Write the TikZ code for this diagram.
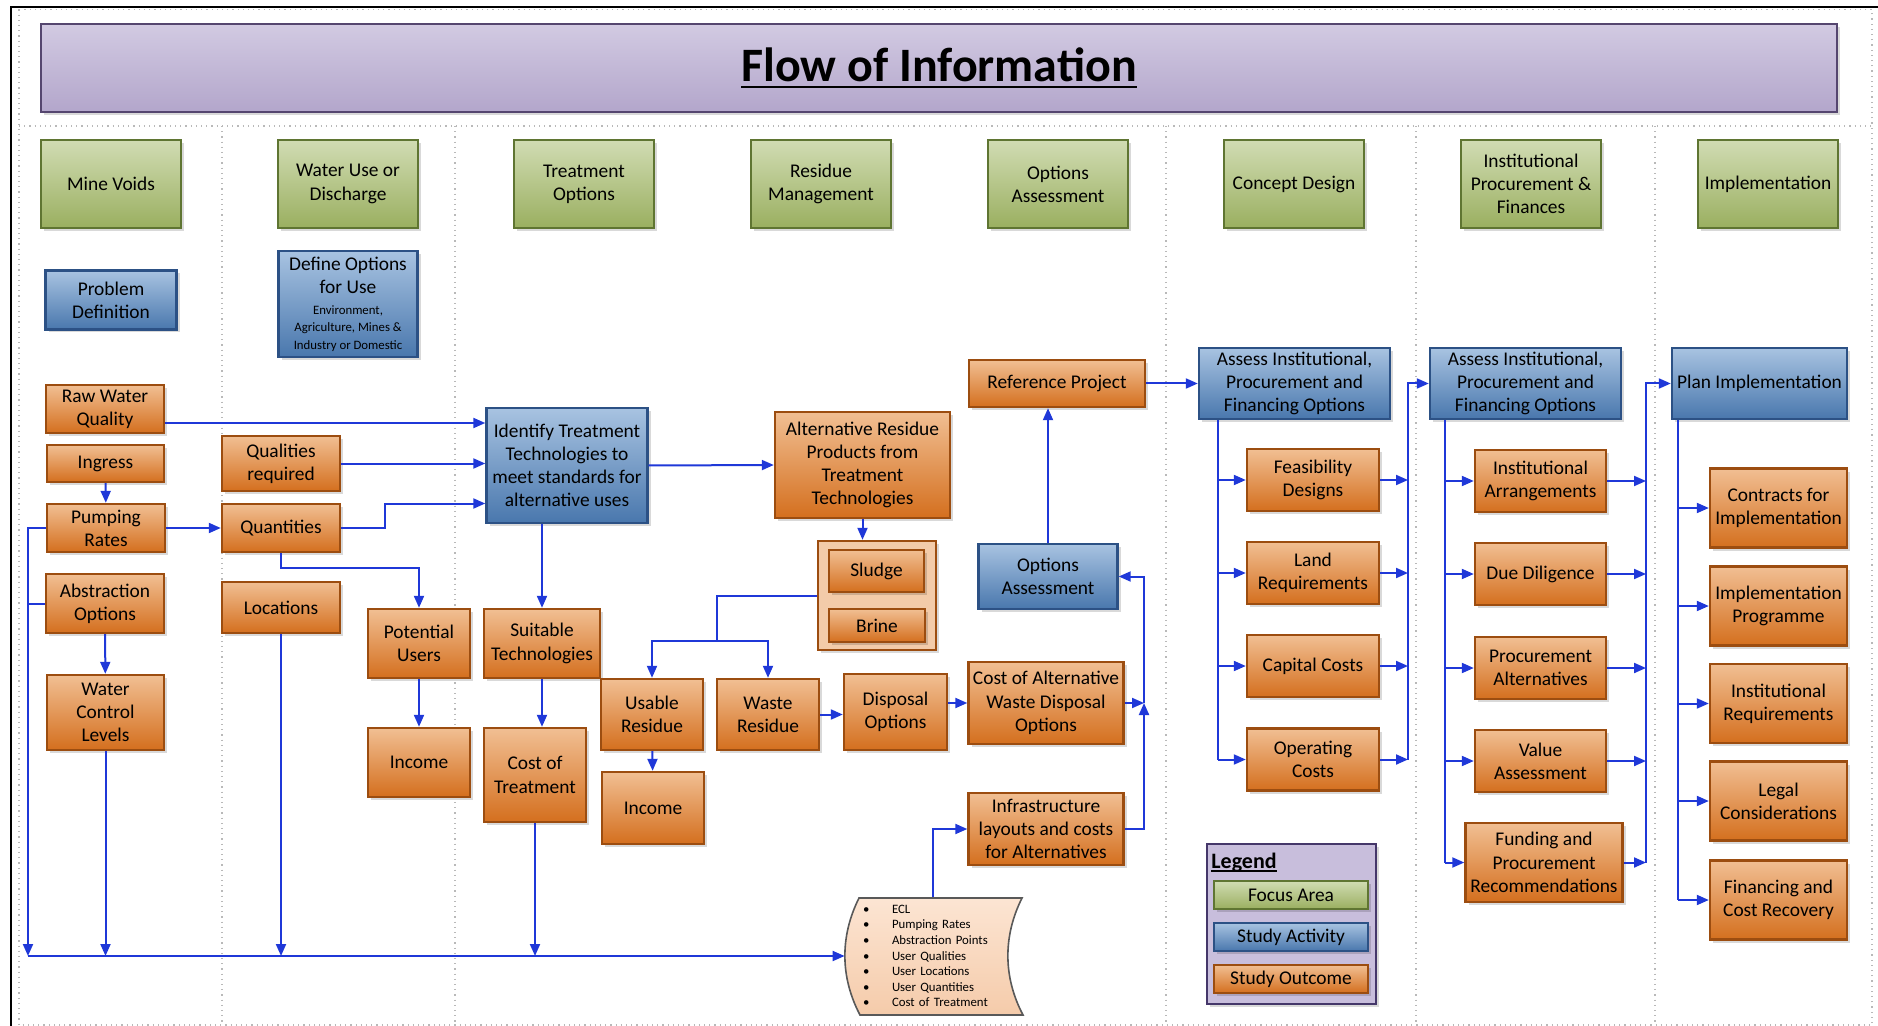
\documentclass[tikz,border=0pt]{standalone}
\usepackage{fontspec}
\setmainfont{Carlito}
\usetikzlibrary{arrows.meta, shadows}

\newcommand{\ulined}[3]{\setbox0=\hbox{#3}\rlap{\rule[-#1]{\wd0}{#2}}\box0}

\definecolor{focustop}{HTML}{D1DCB3}
\definecolor{focusbot}{HTML}{9AAF60}
\definecolor{focusline}{HTML}{5F7532}
\definecolor{acttop}{HTML}{A8C3E1}
\definecolor{actbot}{HTML}{4977AD}
\definecolor{actline}{HTML}{2C5185}
\definecolor{outtop}{HTML}{F1BF93}
\definecolor{outbot}{HTML}{D46F1E}
\definecolor{outedge}{HTML}{9C4D10}
\definecolor{headtop}{HTML}{D2CAE2}
\definecolor{headbot}{HTML}{B3A6CB}
\definecolor{headline}{HTML}{55466F}
\definecolor{legendfill}{HTML}{C8BEDC}
\definecolor{legendline}{HTML}{45376A}
\definecolor{flowblue}{HTML}{1F38D8}
\definecolor{holdfill}{HTML}{F3CBA9}
\definecolor{listtop}{HTML}{FCE5D3}
\definecolor{listbot}{HTML}{F5CBAA}

\tikzset{
    block/.style={draw, line width=1.2pt, align=center, inner sep=0.5pt,
        font=\fontsize{9.7}{11.6}\selectfont,
        drop shadow={shadow xshift=1.5pt, shadow yshift=-1.5pt, fill=black, opacity=0.15}},
    focus/.style={block, draw=focusline, top color=focustop, bottom color=focusbot,
        minimum width=70pt, minimum height=44pt},
    activity/.style={block, draw=actline, top color=acttop, bottom color=actbot},
    outcome/.style={block, draw=outedge, top color=outtop, bottom color=outbot},
    flow/.style={draw=flowblue, line width=1pt, -{Triangle[length=6pt, width=5pt]}},
    trunk/.style={draw=flowblue, line width=1pt},
    lane/.style={draw=gray!55, dotted, line width=0.6pt},
}

\begin{document}
\begin{tikzpicture}[x=0.5pt, y=-0.5pt]
                \useasboundingbox (0,0) rectangle (1878,1026);
                \draw[line width=1.4pt] (11,1026) -- (11,7) -- (1878,7);
                \draw[lane] (19,9.5) rectangle (1872,1025);
                \draw[lane] (19,126) -- (1872,126);
                \foreach \x in {222,455,1166,1416,1655}
                    \draw[lane] (\x,126) -- (\x,1025);

                \node[draw=headline, line width=1.2pt, top color=headtop, bottom color=headbot,
                    minimum width=898pt, minimum height=44pt,
                    font=\fontsize{24}{28}\selectfont\bfseries,
                    drop shadow={shadow xshift=1.5pt, shadow yshift=-1.5pt, fill=black, opacity=0.15}]
                    (header) at (939,68) {\ulined{3.4pt}{1.1pt}{Flow of Information}};

                \node[focus] (fmine) at (111,184) {Mine Voids};
                \node[focus] (fuse) at (348,184) {Water Use or\\Discharge};
                \node[focus] (ftreat) at (584,184) {Treatment\\Options};
                \node[focus] (fresid) at (821,184) {Residue\\Management};
                \node[focus] (fopt) at (1058,184) {Options\\Assessment};
                \node[focus] (fconcept) at (1294,184) {Concept Design};
                \node[focus] (finst) at (1531,184) {Institutional\\Procurement \&\\Finances};
                \node[focus] (fimpl) at (1768,184) {Implementation};

                \node[activity, minimum width=65.5pt, minimum height=29.5pt] (probdef) at (111,300) {Problem\\Definition};
                \node[activity, minimum width=69.5pt, minimum height=53pt] (defopt) at (348,304)
                    {Define Options\\for Use\\[-1pt]{\fontsize{6.4}{7.5}\selectfont Environment,}\\[-3pt]
                     {\fontsize{6.4}{7.5}\selectfont Agriculture, Mines \&}\\[-3pt]
                     {\fontsize{6.4}{7.5}\selectfont Industry or Domestic}};
                \node[activity, minimum width=80.5pt, minimum height=57.5pt] (ident) at (567,465.5)
                    {Identify Treatment\\Technologies to\\meet standards for\\alternative uses};
                \node[activity, minimum width=69.5pt, minimum height=32.5pt] (optass) at (1048,576.5) {Options\\Assessment};
                \node[activity, minimum width=95.5pt, minimum height=35.5pt] (assess1) at (1294.5,383.5)
                    {Assess Institutional,\\Procurement and\\Financing Options};
                \node[activity, minimum width=95.5pt, minimum height=35.5pt] (assess2) at (1525.5,383.5)
                    {Assess Institutional,\\Procurement and\\Financing Options};
                \node[activity, minimum width=87.5pt, minimum height=35.5pt] (planimp) at (1759.5,383.5) {Plan Implementation};

                \node[outcome, minimum width=59pt, minimum height=24pt] (rawq) at (105,409) {Raw Water\\Quality};
                \node[outcome, minimum width=58.5pt, minimum height=18.5pt] (ingress) at (105.5,463.5) {Ingress};
                \node[outcome, minimum width=59pt, minimum height=24pt] (pumprate) at (106,528) {Pumping\\Rates};
                \node[outcome, minimum width=59pt, minimum height=29.5pt] (abstr) at (105,603.5) {Abstraction\\Options};
                \node[outcome, minimum width=58.5pt, minimum height=37.5pt] (wcl) at (105.5,712.5) {Water\\Control\\Levels};
                \node[outcome, minimum width=59pt, minimum height=27.5pt] (qualreq) at (281,463.5) {Qualities\\required};
                \node[outcome, minimum width=59pt, minimum height=24pt] (quant) at (281,528) {Quantities};
                \node[outcome, minimum width=59pt, minimum height=25.5pt] (locat) at (281,607.5) {Locations};
                \node[outcome, minimum width=51pt, minimum height=34.5pt] (potusers) at (419,643.5) {Potential\\Users};
                \node[outcome, minimum width=58pt, minimum height=34.5pt] (suittech) at (542,643.5) {Suitable\\Technologies};
                \node[outcome, minimum width=51pt, minimum height=34.5pt] (income1) at (419,762.5) {Income};
                \node[outcome, minimum width=51pt, minimum height=47pt] (costtreat) at (535,775) {Cost of\\Treatment};
                \node[outcome, minimum width=51pt, minimum height=35.5pt] (usable) at (652,714.5) {Usable\\Residue};
                \node[outcome, minimum width=51pt, minimum height=36pt] (income2) at (653,808) {Income};
                \node[outcome, minimum width=51pt, minimum height=35.5pt] (waste) at (768,714.5) {Waste\\Residue};
                \node[outcome, minimum width=51.5pt, minimum height=38pt] (disposal) at (895.5,712) {Disposal\\Options};
                \node[outcome, minimum width=77.5pt, minimum height=41pt] (costalt) at (1046,703)
                    {Cost of Alternative\\Waste Disposal\\Options};
                \node[outcome, minimum width=77.5pt, minimum height=36pt] (infra) at (1046,829)
                    {Infrastructure\\layouts and costs\\for Alternatives};
                \node[outcome, minimum width=88pt, minimum height=23.5pt] (refproj) at (1057,383.5) {Reference Project};
                \node[outcome, minimum width=87.5pt, minimum height=53pt] (altres) at (862.5,465)
                    {Alternative Residue\\Products from\\Treatment\\Technologies};
                \node[draw=outedge, line width=1.2pt, fill=holdfill, minimum width=59pt, minimum height=54.5pt,
                    drop shadow={shadow xshift=1.5pt, shadow yshift=-1.5pt, fill=black, opacity=0.15}]
                    (residues) at (877,595.5) {};
                \node[outcome, minimum width=47.5pt, minimum height=21pt] (sludge) at (876.5,571) {Sludge};
                \node[outcome, minimum width=48pt, minimum height=16.5pt] (brine) at (877,625.5) {Brine};

                \node[outcome, minimum width=66pt, minimum height=31pt] (feas) at (1313,480) {Feasibility\\Designs};
                \node[outcome, minimum width=66pt, minimum height=31pt] (land) at (1313,573) {Land\\Requirements};
                \node[outcome, minimum width=66pt, minimum height=31pt] (capital) at (1313,666) {Capital Costs};
                \node[outcome, minimum width=66pt, minimum height=31pt] (operat) at (1313,759.5) {Operating\\Costs};
                \node[outcome, minimum width=65.5pt, minimum height=31pt] (instarr) at (1540.5,481) {Institutional\\Arrangements};
                \node[outcome, minimum width=65.5pt, minimum height=31pt] (duedil) at (1540.5,574) {Due Diligence};
                \node[outcome, minimum width=65.5pt, minimum height=31pt] (procalt) at (1540.5,668) {Procurement\\Alternatives};
                \node[outcome, minimum width=65.5pt, minimum height=31pt] (valass) at (1540.5,761) {Value\\Assessment};
                \node[outcome, minimum width=78.5pt, minimum height=39.5pt] (funding) at (1544,862.5)
                    {Funding and\\Procurement\\Recommendations};
                \node[outcome, minimum width=68.5pt, minimum height=39.5pt] (contracts) at (1778.5,508) {Contracts for\\Implementation};
                \node[outcome, minimum width=68.5pt, minimum height=39.5pt] (implprog) at (1778.5,606) {Implementation\\Programme};
                \node[outcome, minimum width=68.5pt, minimum height=39.5pt] (instreq) at (1778.5,703.5) {Institutional\\Requirements};
                \node[outcome, minimum width=68.5pt, minimum height=39.5pt] (legal) at (1778.5,801) {Legal\\Considerations};
                \node[outcome, minimum width=68.5pt, minimum height=39.5pt] (financing) at (1778.5,900) {Financing and\\Cost Recovery};

                \path[draw=black!65, line width=0.8pt, top color=listtop, bottom color=listbot]
                    (859,898) -- (1022,898) .. controls (1003,936) and (1003,977) .. (1023,1015)
                    -- (860,1015) .. controls (840,977) and (840,936) .. (859,898) -- cycle;
                \node[font=\fontsize{6.4}{7.8}\selectfont, align=left, text width=70pt, inner xsep=9pt,
                    minimum width=88pt, minimum height=58.5pt] (datalist) at (933,956)
                    {\makebox[14.5pt][l]{\textbullet}ECL\\
                     \makebox[14.5pt][l]{\textbullet}Pumping Rates\\
                     \makebox[14.5pt][l]{\textbullet}Abstraction Points\\
                     \makebox[14.5pt][l]{\textbullet}User Qualities\\
                     \makebox[14.5pt][l]{\textbullet}User Locations\\
                     \makebox[14.5pt][l]{\textbullet}User Quantities\\
                     \makebox[14.5pt][l]{\textbullet}Cost of Treatment};

                \node[draw=legendline, line width=1.2pt, fill=legendfill, minimum width=84.5pt, minimum height=80pt,
                    drop shadow={shadow xshift=1.5pt, shadow yshift=-1.5pt, fill=black, opacity=0.15}]
                    (legend) at (1291.5,924) {};
                \node[anchor=base west, inner sep=0pt, font=\fontsize{11}{13}\selectfont\bfseries]
                    (legendtitle) at (1211,868) {\ulined{1.8pt}{0.7pt}{Legend}};
                \node[focus, minimum width=77pt, minimum height=14pt] (keyfocus) at (1291,895) {Focus Area};
                \node[activity, minimum width=77pt, minimum height=14pt] (keyactivity) at (1291,937) {Study Activity};
                \node[outcome, minimum width=77pt, minimum height=14pt] (keyoutcome) at (1291,979) {Study Outcome};

                \coordinate (lbus) at (28,956);
                \draw[flow] (pumprate.west) -| (lbus);
                \draw[trunk] (abstr.west) -- (abstr.west -| lbus);
                \draw[flow] (wcl.south) -- (wcl.south |- lbus);
                \draw[flow] (locat.south) -- (locat.south |- lbus);
                \draw[flow] (costtreat.south) -- (costtreat.south |- lbus);
                \draw[flow] (lbus) -- (datalist.west);
                \draw[flow] (datalist.north) |- (infra.west);

                \draw[flow] (ingress) -- (pumprate);
                \draw[flow] (abstr) -- (wcl);
                \draw[flow] (pumprate) -- (quant);
                \draw[flow] ([yshift=-7pt]rawq.east) -- ([yshift=-7pt]rawq.east -| ident.west);
                \draw[flow] (qualreq.east) -- (qualreq.east -| ident.west);
                \draw[flow] (quant.east) -- ++(44,0) |- ([yshift=-19pt]ident.west);
                \draw[flow] (quant.south) -- ++(0,15) -| (potusers.north);
                \draw[flow] (potusers) -- (income1);
                \draw[flow] (suittech.north |- ident.south) -- (suittech.north);
                \draw[flow] (suittech.south) -- (suittech.south |- costtreat.north);
                \draw[flow] (ident.east) -- (altres.west);
                \draw[flow] (altres.south) -- (altres.south |- residues.north);

                \coordinate (split) at (717,641);
                \draw[trunk] (residues.west) -| (split);
                \draw[flow] (split) -| (usable.north);
                \draw[flow] (split) -| (waste.north);
                \draw[flow] (usable) -- (income2);
                \draw[flow] (waste.east) -- (waste.east -| disposal.west);
                \draw[flow] (disposal.east |- costalt.west) -- (costalt.west);

                \coordinate (merge) at (1144,703);
                \draw[flow] (costalt.east) -- (merge);
                \draw[flow] (infra.east) -| (merge);
                \draw[flow] (merge) |- (optass.east);
                \draw[flow] (optass.north) -- (optass.north |- refproj.south);
                \draw[flow] (refproj) -- (assess1);

                \coordinate (cdtop) at ([xshift=10pt]assess1.south west);
                \coordinate (cdout) at (1408,383.5);
                \draw[trunk] (cdtop) -- (cdtop |- operat.west);
                \foreach \n in {feas,land,capital,operat} {
                    \draw[flow] (cdtop |- \n.west) -- (\n.west);
                    \draw[flow] (\n.east) -- (\n.east -| cdout);
                }
                \draw[flow] (operat.east -| cdout) -- (cdout) -- (assess2.west);

                \coordinate (iptop) at ([xshift=8pt]assess2.south west);
                \coordinate (ipout) at (1646,383.5);
                \draw[trunk] (iptop) -- (iptop |- funding.west);
                \foreach \n in {instarr,duedil,procalt,valass,funding} {
                    \draw[flow] (iptop |- \n.west) -- (\n.west);
                    \draw[flow] (\n.east) -- (\n.east -| ipout);
                }
                \draw[flow] (funding.east -| ipout) -- (ipout) -- (planimp.west);

                \coordinate (pltop) at ([xshift=3.5pt]planimp.south west);
                \draw[trunk] (pltop) -- (pltop |- financing.west);
                \foreach \n in {contracts,implprog,instreq,legal,financing}
                    \draw[flow] (pltop |- \n.west) -- (\n.west);
\end{tikzpicture}
\end{document}
